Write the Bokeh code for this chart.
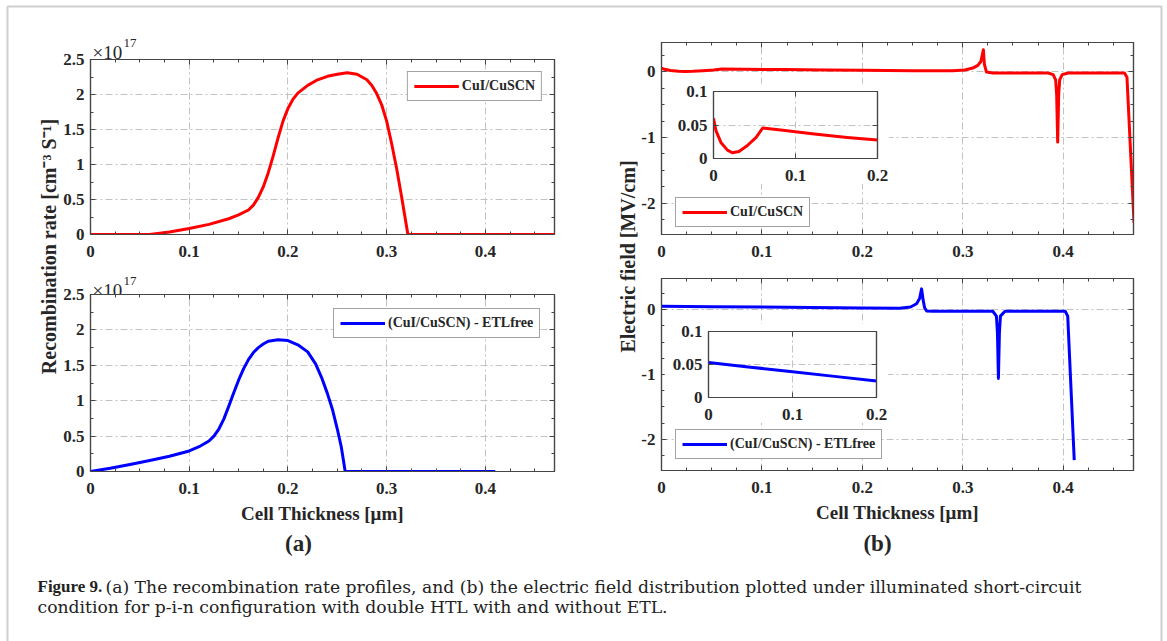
import math
import numpy as np
from bokeh.plotting import figure
from bokeh.models import (Range1d, LinearAxis, FixedTicker, CustomJSTickFormatter,
                          Legend, LegendItem)
from bokeh.embed import file_html
from bokeh.resources import INLINE
from bokeh.core.properties import value

# ---------------- data ----------------
series_labels = ["CuI/CuSCN", "(CuI/CuSCN) - ETLfree"]

# recombination rate, units of 1e17 cm^-3 s^-1
rec_x_cui = [0, 0.03, 0.06, 0.08, 0.10, 0.12, 0.14, 0.15, 0.16, 0.165, 0.17, 0.175, 0.18,
             0.185, 0.19, 0.195, 0.20, 0.205, 0.21, 0.22, 0.23, 0.24, 0.25, 0.26, 0.27,
             0.28, 0.285, 0.29, 0.295, 0.30, 0.305, 0.31, 0.315, 0.3215, 0.36, 0.40, 0.47]
rec_y_cui = [0, 0, 0, 0.035, 0.085, 0.145, 0.225, 0.28, 0.35, 0.42, 0.53, 0.68, 0.88,
             1.12, 1.38, 1.62, 1.80, 1.93, 2.02, 2.13, 2.21, 2.26, 2.29, 2.31, 2.29,
             2.21, 2.13, 2.01, 1.85, 1.62, 1.30, 0.95, 0.55, 0, 0, 0, 0]

rec_x_etl = [0, 0.02, 0.04, 0.06, 0.08, 0.10, 0.11, 0.12, 0.125, 0.13, 0.135, 0.14, 0.145,
             0.15, 0.155, 0.16, 0.165, 0.17, 0.175, 0.18, 0.19, 0.20, 0.21, 0.22, 0.228,
             0.234, 0.24, 0.245, 0.25, 0.254, 0.258, 0.30, 0.35, 0.41]
rec_y_etl = [0, 0.045, 0.10, 0.155, 0.215, 0.29, 0.35, 0.43, 0.50, 0.60, 0.74, 0.92, 1.11,
             1.29, 1.45, 1.58, 1.68, 1.75, 1.80, 1.84, 1.86, 1.85, 1.79, 1.69, 1.52,
             1.33, 1.10, 0.88, 0.60, 0.35, 0, 0, 0, 0]

# electric field, MV/cm
ef_x_cui = [0, 0.003, 0.009, 0.017, 0.023, 0.031, 0.041, 0.052, 0.06, 0.082, 0.123, 0.163,
            0.2, 0.25, 0.29, 0.302, 0.31, 0.315, 0.318, 0.3205, 0.3215, 0.3235, 0.33, 0.385,
            0.39, 0.3925, 0.3935, 0.3945, 0.3955, 0.3965, 0.399, 0.405, 0.461, 0.4635, 0.4705]
ef_y_cui = [0.06, 0.0415, 0.024, 0.0125, 0.0085, 0.0105, 0.019, 0.0315, 0.0455, 0.0425, 0.0365, 0.0315,
            0.0275, 0.02, 0.02, 0.03, 0.06, 0.10, 0.16, 0.34, 0.12, 0.0, -0.015, -0.015,
            -0.04, -0.12, -0.35, -1.07, -0.35, -0.12, -0.04, -0.015, -0.015, -0.08, -2.30]

ef_x_etl = [0, 0.05, 0.10, 0.15, 0.20, 0.237, 0.248, 0.254, 0.257, 0.259, 0.2605, 0.262,
            0.264, 0.27, 0.33, 0.3335, 0.3345, 0.3355, 0.3365, 0.3375, 0.342, 0.402, 0.4045, 0.411]
ef_y_etl = [0.053, 0.046, 0.039, 0.032, 0.025, 0.02, 0.04, 0.09, 0.17, 0.32, 0.15, 0.03,
            -0.02, -0.025, -0.025, -0.1, -0.35, -1.06, -0.35, -0.1, -0.025, -0.025, -0.1, -2.32]

x_ticks = [0, 0.1, 0.2, 0.3, 0.4]
rec_y_ticks = [0, 0.5, 1, 1.5, 2, 2.5]
ef_y_ticks = [-2, -1, 0]
inset_x_ticks = [0, 0.1, 0.2]
inset_y_ticks = [0, 0.05, 0.1]

# ---------------- styling ----------------
FONT = "Liberation Serif"
CAP_FONT = "DejaVu Serif"
AX = "#454545"
TXT = "#262626"
GRID = "#c2c2c2"
RED = "#ff0000"
BLUE = "#0000ff"


def num_fmt():
    return CustomJSTickFormatter(code="return String(parseFloat(tick.toFixed(4)));")


def blank_fmt():
    return CustomJSTickFormatter(code="return '';")


def style_axis(ax, ticker, standoff, show_labels=True, size="17px"):
    ax.ticker = ticker
    ax.formatter = num_fmt() if show_labels else blank_fmt()
    ax.major_tick_in = 5
    ax.major_tick_out = 0
    ax.minor_tick_in = 3
    ax.minor_tick_out = 0
    ax.axis_line_color = AX
    ax.axis_line_width = 1.2
    ax.major_tick_line_color = AX
    ax.minor_tick_line_color = AX
    ax.major_label_text_font = FONT
    ax.major_label_text_font_style = "bold"
    ax.major_label_text_font_size = size
    ax.major_label_text_color = TXT
    ax.major_label_standoff = standoff if show_labels else 0


def panel(frame, borders, xr, yr, xt, xminor, yt, yminor, opaque=False, xlabel=None):
    fl, ft, fw, fh = frame
    bl, br, bt, bb = borders
    p = figure(width=fw + bl + br, height=fh + bt + bb,
               x_range=Range1d(*xr), y_range=Range1d(*yr),
               min_border_left=bl, min_border_right=br,
               min_border_top=bt, min_border_bottom=bb,
               output_backend="svg", toolbar_location=None,
               styles={"position": "absolute", "left": f"{fl - bl}px", "top": f"{ft - bt}px"})
    p.background_fill_color = "white"
    p.border_fill_color = "white" if opaque else None
    p.outline_line_color = AX
    p.outline_line_width = 1.2
    xtk = FixedTicker(ticks=xt, minor_ticks=xminor)
    ytk = FixedTicker(ticks=yt, minor_ticks=yminor)
    bottom = p.xaxis[0]
    left = p.yaxis[0]
    style_axis(bottom, xtk, 11)
    style_axis(left, ytk, 6)
    top = LinearAxis()
    style_axis(top, xtk, 0, show_labels=False)
    right = LinearAxis()
    style_axis(right, ytk, 0, show_labels=False)
    p.add_layout(top, "above")
    p.add_layout(right, "right")
    for g in (p.xgrid[0], p.ygrid[0]):
        g.grid_line_color = GRID
        g.grid_line_dash = "7 3 2 3"
        g.grid_line_width = 1
    if xlabel:
        bottom.axis_label = xlabel
        bottom.axis_label_text_font = FONT
        bottom.axis_label_text_font_style = "bold"
        bottom.axis_label_text_font_size = "19px"
        bottom.axis_label_text_color = TXT
        bottom.axis_label_standoff = 6
    return p


def add_legend(p, r, label, location):
    leg = Legend(items=[LegendItem(label=label, renderers=[r])], location=location)
    leg.label_text_font = FONT
    leg.label_text_font_style = "bold"
    leg.label_text_font_size = "14px"
    leg.label_text_color = TXT
    leg.border_line_color = AX
    leg.border_line_width = 1
    leg.background_fill_color = "white"
    leg.background_fill_alpha = 1
    leg.glyph_width = 45
    leg.glyph_height = 16
    leg.label_height = 16
    leg.label_standoff = 3
    leg.padding = 6
    leg.margin = 12
    p.add_layout(leg, "center")


minor_x = list(np.arange(0, 0.4751, 0.025))
minor_rec = list(np.arange(0, 2.501, 0.25))
minor_ef = list(np.arange(-2.5, 0.51, 0.25))

# ---------------- background (frame, shared labels, caption) ----------------
bg = figure(width=1167, height=641, x_range=Range1d(0, 1167), y_range=Range1d(641, 0),
            x_axis_type=None, y_axis_type=None, min_border=0,
            output_backend="svg", toolbar_location=None,
            styles={"position": "absolute", "left": "0px", "top": "0px"})
bg.outline_line_color = None
bg.background_fill_color = "white"
bg.border_fill_color = "white"
bg.grid.visible = False
bg.quad(left=[7], right=[1161], top=[6], bottom=[700], fill_color=None,
        line_color="#cfcfcf", line_width=2)

bold_txt = dict(text_font=value(FONT), text_font_style="bold", text_color=TXT,
                text_align="center", text_baseline="middle")
bg.text(x=[48], y=[246], text=["Recombination rate [cm\u207b\u00b3 S\u207b\u00b9]"],
        angle=math.pi / 2, text_font_size="20px", **bold_txt)
bg.text(x=[627], y=[256], text=["Electric field [MV/cm]"],
        angle=math.pi / 2, text_font_size="20px", **bold_txt)
bg.text(x=[298, 877], y=[543, 543], text=["(a)", "(b)"], text_font_size="23px", **bold_txt)

norm_txt = dict(text_font=value(FONT), text_color=TXT, text_align="left",
                text_baseline="alphabetic")
bg.text(x=[92, 92], y=[52, 290], text=["\u00d710", "\u00d710"], text_font_size="19px", **norm_txt)
bg.text(x=[123, 123], y=[42, 280], text=["17", "17"], text_font_size="13px", **norm_txt)

bg.text(x=[37], y=[586], text=["Figure 9."], text_font=value(FONT), text_font_style="bold",
        text_color="#222222", text_align="left", text_baseline="alphabetic",
        text_font_size="17px")
bg.text(x=[105, 37], y=[586, 606],
        text=["(a) The recombination rate profiles, and (b) the electric field distribution plotted under illuminated short-circuit",
              "condition for p-i-n configuration with double HTL with and without ETL."],
        text_font=value(CAP_FONT), text_color="#222222", text_align="left",
        text_baseline="alphabetic", text_font_size="17.2px")

# ---------------- panels ----------------
line_kw = dict(line_width=3, line_join="round")

p_tl = panel((90, 59, 464, 175), (60, 12, 8, 40), (0, 0.47), (0, 2.5),
             x_ticks, minor_x, rec_y_ticks, minor_rec)
r1 = p_tl.line(rec_x_cui, rec_y_cui, line_color=RED, **line_kw)
add_legend(p_tl, r1, series_labels[0], "top_right")

p_bl = panel((90, 294, 464, 177), (60, 12, 8, 64), (0, 0.47), (0, 2.5),
             x_ticks, minor_x, rec_y_ticks, minor_rec, xlabel="Cell Thickness [\u03bcm]")
r2 = p_bl.line(rec_x_etl, rec_y_etl, line_color=BLUE, **line_kw)
add_legend(p_bl, r2, series_labels[1], (243, 133))

p_tr = panel((661, 42, 472, 192), (60, 12, 8, 40), (0, 0.47), (-2.48, 0.45),
             x_ticks, minor_x, ef_y_ticks, minor_ef)
r3 = p_tr.line(ef_x_cui, ef_y_cui, line_color=RED, **line_kw)
add_legend(p_tr, r3, series_labels[0], (14, 7))

p_br = panel((661, 278, 472, 192), (60, 12, 8, 64), (0, 0.47), (-2.48, 0.48),
             x_ticks, minor_x, ef_y_ticks, minor_ef, xlabel="Cell Thickness [\u03bcm]")
r4 = p_br.line(ef_x_etl, ef_y_etl, line_color=BLUE, **line_kw)
add_legend(p_br, r4, series_labels[1], (14, 11))

# insets
in_tr = panel((713, 91, 164, 67), (44, 12, 8, 26), (0, 0.2), (0, 0.1),
              inset_x_ticks, [], inset_y_ticks, [], opaque=True)
in_tr.line(ef_x_cui, ef_y_cui, line_color=RED, **line_kw)

in_br = panel((708, 331, 168, 66), (44, 12, 8, 26), (0, 0.2), (0, 0.1),
              inset_x_ticks, [], inset_y_ticks, [], opaque=True)
in_br.line(ef_x_etl, ef_y_etl, line_color=BLUE, **line_kw)

roots = [bg, p_tl, p_bl, p_tr, p_br, in_tr, in_br]
open("out.html", "w").write(file_html(roots, INLINE, "Figure 9"))
